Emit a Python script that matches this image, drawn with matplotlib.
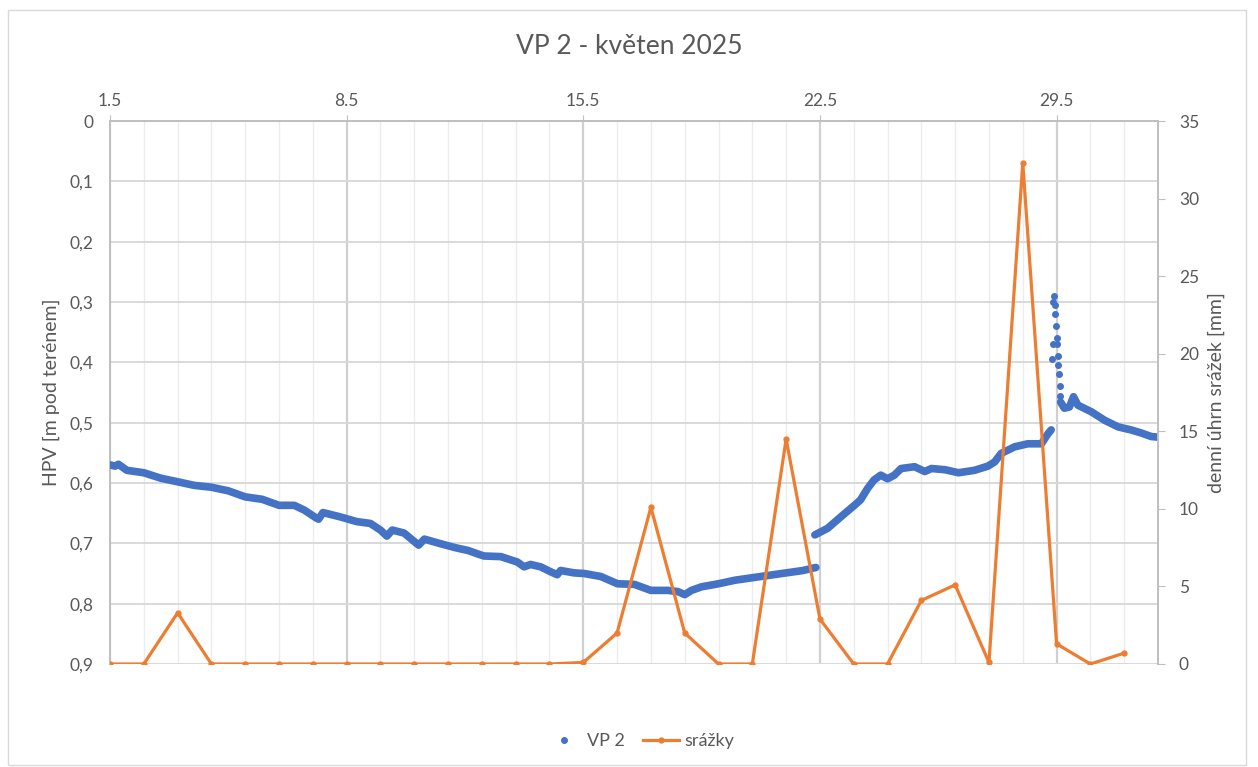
import matplotlib.pyplot as plt
from matplotlib.lines import Line2D
from matplotlib.patches import Rectangle
from matplotlib.ticker import FixedLocator, MultipleLocator

plt.rcParams["font.family"] = ["Lato", "DejaVu Sans"]

TEXT = "#595959"
BLUE = "#4472C4"
ORANGE = "#ED7D31"

# day of month (1.0 = 1.5. 00:00), HPV in m below ground
vp2_day_a = [
    1.0, 1.15, 1.25, 1.5, 2.0, 2.5, 3.0, 3.5, 4.0, 4.5, 5.0, 5.5, 6.0,
    6.45, 6.75, 7.1, 7.17, 7.3, 7.8, 8.3, 8.7, 9.0, 9.19, 9.35, 9.7,
    10.0, 10.13, 10.3, 10.8, 11.2, 11.6, 11.9, 12.06, 12.56, 13.05,
    13.25, 13.44, 13.74, 14.03, 14.23, 14.33, 14.73, 15.03, 15.52,
    16.01, 16.51, 17.0, 17.5, 17.8, 18.0, 18.2, 18.5, 19.0, 19.5, 20.0,
    20.5, 21.0, 21.5, 21.88,
]
vp2_hpv_a = [
    0.570, 0.572, 0.569, 0.579, 0.583, 0.592, 0.598, 0.604, 0.607, 0.613,
    0.623, 0.627, 0.637, 0.637, 0.645, 0.658, 0.660, 0.649, 0.656, 0.664,
    0.667, 0.678, 0.688, 0.678, 0.683, 0.697, 0.703, 0.693, 0.701, 0.707,
    0.712, 0.718, 0.721, 0.722, 0.731, 0.739, 0.735, 0.739, 0.747, 0.752,
    0.745, 0.749, 0.750, 0.755, 0.767, 0.768, 0.778, 0.778, 0.780, 0.785,
    0.778, 0.772, 0.767, 0.761, 0.757, 0.753, 0.749, 0.745, 0.740,
]

vp2_day_b = [
    21.85, 22.23, 22.62, 23.02, 23.2, 23.41, 23.6, 23.8, 24.0, 24.2, 24.4,
    24.8, 25.1, 25.3, 25.7, 26.1, 26.57, 26.97, 27.17, 27.36, 27.76,
    28.15, 28.55, 28.75, 28.84,
]
vp2_hpv_b = [
    0.686, 0.675, 0.656, 0.637, 0.628, 0.609, 0.595, 0.587, 0.593, 0.587,
    0.576, 0.573, 0.581, 0.576, 0.578, 0.583, 0.579, 0.572, 0.565, 0.551,
    0.540, 0.535, 0.535, 0.518, 0.512,
]

vp2_day_jump = [
    28.86, 28.88, 28.9, 28.92, 28.94, 28.96, 28.98, 29.0, 29.02, 29.03,
    29.05, 29.07, 29.09, 29.11,
]
vp2_hpv_jump = [
    0.395, 0.370, 0.300, 0.290, 0.305, 0.320, 0.340, 0.360, 0.370, 0.390,
    0.405, 0.420, 0.440, 0.455,
]

vp2_day_c = [
    29.12, 29.23, 29.38, 29.5, 29.63, 30.03, 30.42, 30.82, 31.2, 31.5,
    31.8, 32.0,
]
vp2_hpv_c = [
    0.466, 0.476, 0.474, 0.457, 0.471, 0.482, 0.496, 0.507, 0.512, 0.517,
    0.523, 0.524,
]

# daily precipitation [mm]
rain_day = list(range(1, 32))
rain_mm = [
    0, 0, 3.3, 0, 0, 0, 0, 0, 0, 0, 0, 0, 0, 0, 0.1, 2.0, 10.1, 2.0, 0, 0,
    14.5, 2.9, 0, 0, 4.1, 5.1, 0.1, 32.3, 1.3, 0, 0.7,
]

week_ticks = [1, 8, 15, 22, 29]
week_labels = ["1.5", "8.5", "15.5", "22.5", "29.5"]
hpv_ticks = [0, 0.1, 0.2, 0.3, 0.4, 0.5, 0.6, 0.7, 0.8, 0.9]
hpv_labels = ["0", "0,1", "0,2", "0,3", "0,4", "0,5", "0,6", "0,7", "0,8", "0,9"]

fig = plt.figure(figsize=(12.58, 7.67), dpi=100)
fig.patches.append(
    Rectangle(
        (8 / 1258, 2 / 767),
        1238 / 1258,
        755 / 767,
        transform=fig.transFigure,
        fill=False,
        edgecolor="#d9d9d9",
        linewidth=1,
    )
)

ax = fig.add_axes([110 / 1258, 1 - 664 / 767, 1048 / 1258, 543 / 767])
ax2 = ax.twinx()

ax.set_xlim(1, 32)
ax.set_ylim(0.9, 0)
ax2.set_ylim(0, 35)

# gridlines
ax.xaxis.set_major_locator(FixedLocator(week_ticks))
ax.xaxis.set_minor_locator(MultipleLocator(1))
ax.set_yticks(hpv_ticks)
ax.set_yticklabels(hpv_labels)
ax.grid(axis="x", which="minor", color="#ececec", linewidth=1)
ax.grid(axis="x", which="major", color="#d0d0d0", linewidth=1.6)
ax.grid(axis="y", which="major", color="#d9d9d9", linewidth=1.4)
ax.set_axisbelow(True)

ax.xaxis.tick_top()
ax.set_xticklabels(week_labels)
ax.tick_params(axis="x", which="major", length=4, color="#bfbfbf", colors=TEXT, labelsize=12.5, pad=5)
ax.tick_params(axis="x", which="minor", length=0)
ax.tick_params(axis="y", length=0, colors=TEXT, labelsize=12.5, pad=12)

for side in ["left", "right", "top", "bottom"]:
    ax.spines[side].set_visible(False)
    ax2.spines[side].set_visible(False)
ax.spines["left"].set_visible(True)
ax.spines["left"].set_color("#bfbfbf")
ax.spines["left"].set_linewidth(1.4)
ax.spines["top"].set_visible(True)
ax.spines["top"].set_color("#bfbfbf")
ax.spines["top"].set_linewidth(1.4)
ax2.spines["right"].set_visible(True)
ax2.spines["right"].set_color("#bfbfbf")
ax2.spines["right"].set_linewidth(1.4)

ax2.yaxis.set_major_locator(MultipleLocator(5))
ax2.tick_params(axis="y", length=5, color="#bfbfbf", colors=TEXT, labelsize=12.5, pad=10)

# groundwater level
for days, values in [
    (vp2_day_a, vp2_hpv_a),
    (vp2_day_b, vp2_hpv_b),
    (vp2_day_c, vp2_hpv_c),
]:
    ax.plot(days, values, color=BLUE, linewidth=5.5, solid_capstyle="round", solid_joinstyle="round", zorder=3)
ax.plot(vp2_day_jump, vp2_hpv_jump, linestyle="none", marker="o", markersize=4, color=BLUE, zorder=3)

# precipitation
ax2.plot(rain_day, rain_mm, color=ORANGE, linewidth=2.3, marker="o", markersize=3.5, zorder=4)

ax.set_ylabel("HPV [m pod terénem]", color=TEXT, fontsize=14, labelpad=7)
ax2.set_ylabel("denní úhrn srážek [mm]", color=TEXT, fontsize=14, labelpad=6)

fig.text(0.5, 1 - 46 / 767, "VP 2 - květen 2025", ha="center", va="center", color=TEXT, fontsize=19)

handles = [
    Line2D([], [], linestyle="none", marker="o", markersize=4, color=BLUE),
    Line2D([], [], color=ORANGE, linewidth=2.3, marker="o", markersize=3.5),
]
fig.legend(
    handles,
    ["VP 2", "srážky"],
    loc="center",
    bbox_to_anchor=(640 / 1258, 1 - 741 / 767),
    ncol=2,
    frameon=False,
    fontsize=13,
    labelcolor=TEXT,
    handlelength=2.0,
    handletextpad=0.3,
    columnspacing=1.0,
)

fig.savefig("out.png", dpi=100)
